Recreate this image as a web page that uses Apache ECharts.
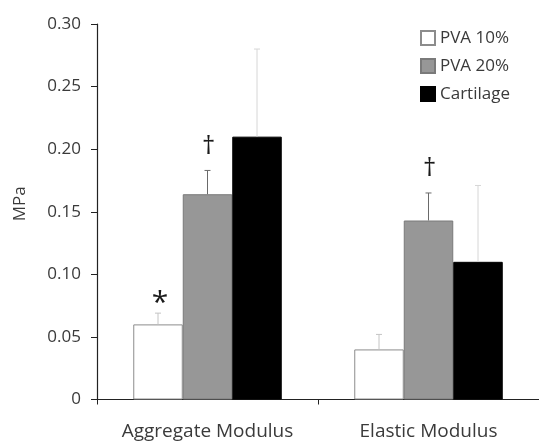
<!DOCTYPE html>
<html>
<head>
<meta charset="utf-8">
<script src="https://cdn.jsdelivr.net/npm/echarts@6/dist/echarts.min.js"></script>
<style>
  html, body { margin: 0; padding: 0; background: #fff; }
  #chart { width: 539px; height: 442px; }
</style>
</head>
<body>
<div id="chart"></div>
<script>
// Mechanical properties: group means and standard deviations (MPa)
const categories = ['Aggregate Modulus', 'Elastic Modulus'];
const seriesNames = ['PVA 10%', 'PVA 20%', 'Cartilage'];
const pva10 = [0.060, 0.040];
const pva20 = [0.164, 0.143];
const cartilage = [0.210, 0.110];
const pva10Sd = [0.009, 0.012];
const pva20Sd = [0.019, 0.022];
const cartilageSd = [0.070, 0.061];
// significance markers: [category index, series index, symbol]
const markers = [[0, 0, '*'], [0, 1, '†'], [1, 1, '†']];
const yTicks = [0, 0.05, 0.10, 0.15, 0.20, 0.25, 0.30];

const values = [pva10, pva20, cartilage];
const sds = [pva10Sd, pva20Sd, cartilageSd];

const BAR_W = 49.5;
const FONT = '"Open Sans", "DejaVu Sans", sans-serif';
const TEXT = '#3a3a3a';
const fills = ['#ffffff', '#979797', '#000000'];
const borders = ['#8c8c8c', '#7a7a7a', '#000000'];
const errColors = ['#c4c4c4', '#6a6a6a', '#d6d6d6'];

const chart = echarts.init(document.getElementById('chart'), null, { renderer: 'canvas' });

const barSeries = seriesNames.map((name, i) => ({
  name: name,
  type: 'bar',
  data: values[i],
  barWidth: BAR_W,
  barGap: '0%',
  itemStyle: { color: fills[i], borderColor: borders[i], borderWidth: 1 },
  emphasis: { disabled: true },
  z: 2
}));

// error bars drawn upward only, with a short cap
const errData = [];
values.forEach((vals, s) => vals.forEach((v, c) => errData.push([c, v, sds[s][c], s])));
const errSeries = {
  type: 'custom',
  data: errData,
  z: 3,
  silent: true,
  renderItem: function (params, api) {
    const c = api.value(0), v = api.value(1), sd = api.value(2), s = api.value(3);
    const base = api.coord([c, v]);
    const top = api.coord([c, v + sd]);
    const x = base[0] + (s - 1) * BAR_W;
    const col = errColors[s];
    return {
      type: 'group',
      children: [
        { type: 'line', shape: { x1: x, y1: base[1], x2: x, y2: top[1] }, style: { stroke: col, lineWidth: 1 } },
        { type: 'line', shape: { x1: x - 3, y1: top[1], x2: x + 3, y2: top[1] }, style: { stroke: col, lineWidth: 1 } }
      ]
    };
  }
};

const markData = markers.map(m => [m[0], values[m[1]][m[0]] + sds[m[1]][m[0]], m[1], m[2]]);
const markSeries = {
  type: 'custom',
  data: markData,
  z: 4,
  silent: true,
  renderItem: function (params, api) {
    const c = api.value(0), v = api.value(1), s = api.value(2);
    const sym = markData[params.dataIndex][3];
    const p = api.coord([c, v]);
    const x = p[0] + (s - 1) * BAR_W;
    const isStar = sym === '*';
    return {
      type: 'text',
      x: x + (isStar ? 2 : 1),
      y: p[1] - (isStar ? 10 : 24),
      style: {
        text: sym,
        fontSize: isStar ? 30 : 26,
        fontFamily: FONT,
        fill: '#1a1a1a',
        align: 'center',
        verticalAlign: 'middle'
      }
    };
  }
};

chart.setOption({
  animation: false,
  backgroundColor: '#ffffff',
  grid: { left: 97, top: 24, width: 446, height: 375.5, containLabel: false },
  legend: {
    data: seriesNames,
    orient: 'vertical',
    left: 420,
    top: 27,
    padding: 0,
    itemWidth: 14,
    itemHeight: 14,
    itemGap: 6,
    icon: 'rect',
    selectedMode: false,
    textStyle: { fontFamily: FONT, fontSize: 17, color: TEXT, lineHeight: 22 }
  },
  xAxis: {
    type: 'category',
    data: categories,
    axisLine: { lineStyle: { color: '#222222', width: 1.2 } },
    axisTick: { show: true, length: 5, lineStyle: { color: '#222222' } },
    axisLabel: { interval: 0, hideOverlap: false, fontFamily: FONT, fontSize: 19, color: TEXT, margin: 23 }
  },
  yAxis: {
    type: 'value',
    min: 0,
    max: 0.30,
    interval: 0.05,
    name: 'MPa',
    nameLocation: 'middle',
    nameGap: 68,
    nameTextStyle: { fontFamily: FONT, fontSize: 17, color: TEXT, padding: [0, 0, 0, 16] },
    axisLine: { show: true, lineStyle: { color: '#222222', width: 1.2 } },
    axisTick: { show: true, length: 6, lineStyle: { color: '#222222' } },
    splitLine: { show: false },
    axisLabel: {
      fontFamily: FONT, fontSize: 17, color: TEXT, margin: 16,
      formatter: function (v) {
        const t = yTicks.find(k => Math.abs(k - v) < 1e-9);
        return t === 0 ? '0' : (t !== undefined ? t.toFixed(2) : '');
      }
    }
  },
  series: barSeries.concat([errSeries, markSeries])
});
</script>
</body>
</html>
